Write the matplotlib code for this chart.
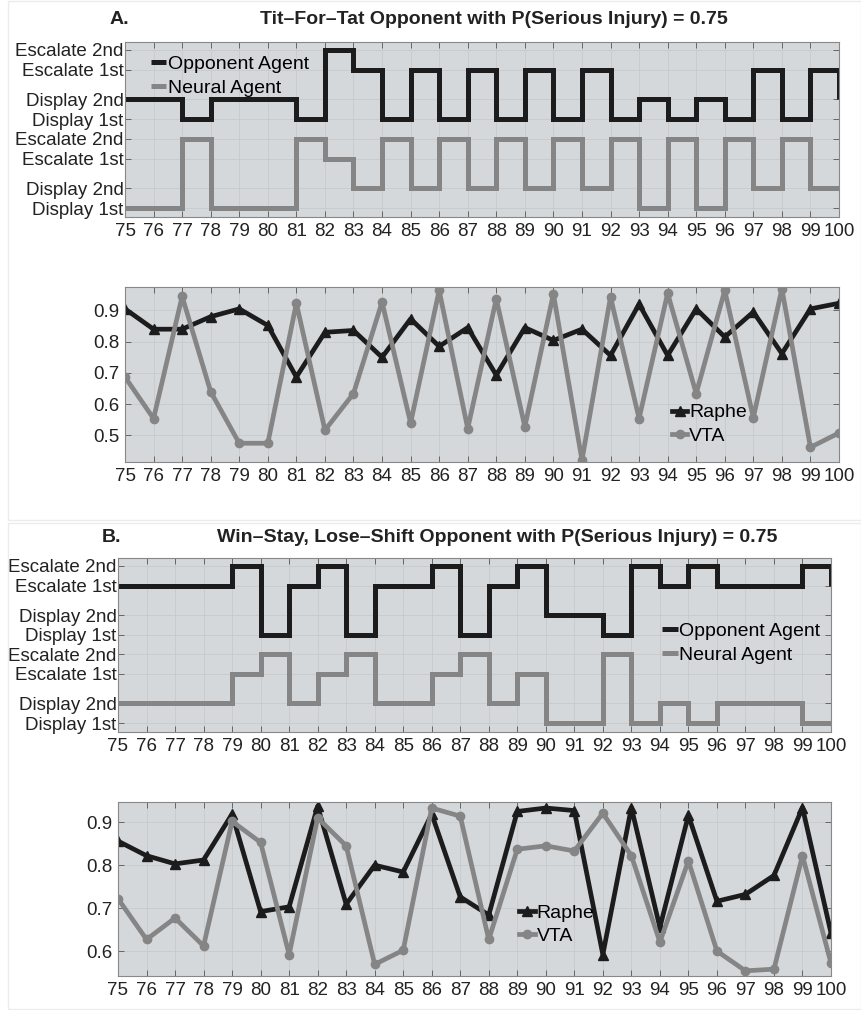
import matplotlib
matplotlib.use("Agg")
import matplotlib.pyplot as plt
from matplotlib.patches import Rectangle
import numpy as np

plt.rcParams['font.family'] = ['Liberation Sans', 'DejaVu Sans']

# ---------------- data ----------------
trials = list(range(75, 101))
level_names = ['Display 1st', 'Display 2nd', 'Escalate 1st', 'Escalate 2nd']
# codes: 0=Display 1st, 1=Display 2nd, 2=Escalate 1st, 3=Escalate 2nd
a_opponent = [1, 1, 0, 1, 1, 1, 0, 3, 2, 0, 2, 0, 2, 0, 2, 0, 2, 0, 1, 0, 1, 0, 2, 0, 2, 1]
a_neural = [0, 0, 3, 0, 0, 0, 3, 2, 1, 3, 1, 3, 1, 3, 1, 3, 1, 3, 0, 3, 0, 3, 1, 3, 1, 1]
b_opponent = [2, 2, 2, 2, 3, 0, 2, 3, 0, 2, 2, 3, 0, 2, 3, 1, 1, 0, 3, 2, 3, 2, 2, 2, 3, 2]
b_neural = [1, 1, 1, 1, 2, 3, 1, 2, 3, 1, 1, 2, 3, 1, 2, 0, 0, 3, 0, 1, 0, 1, 1, 1, 0, 0]

a_raphe = [0.905, 0.84, 0.84, 0.88, 0.905, 0.852, 0.687, 0.83, 0.836, 0.75, 0.873, 0.785, 0.845,
           0.693, 0.845, 0.804, 0.84, 0.756, 0.92, 0.756, 0.905, 0.815, 0.895, 0.762, 0.905, 0.923]
a_vta = [0.687, 0.554, 0.945, 0.64, 0.475, 0.475, 0.923, 0.517, 0.634, 0.927, 0.54, 0.964, 0.522,
         0.937, 0.528, 0.953, 0.421, 0.943, 0.554, 0.955, 0.634, 0.964, 0.557, 0.969, 0.462, 0.508]
b_raphe = [0.856, 0.822, 0.803, 0.812, 0.919, 0.692, 0.703, 0.937, 0.709, 0.80, 0.784, 0.919, 0.726,
           0.684, 0.925, 0.933, 0.927, 0.592, 0.934, 0.655, 0.916, 0.716, 0.732, 0.776, 0.934, 0.642]
b_vta = [0.722, 0.627, 0.677, 0.612, 0.902, 0.853, 0.592, 0.91, 0.845, 0.569, 0.602, 0.933, 0.914,
         0.627, 0.837, 0.845, 0.833, 0.921, 0.822, 0.621, 0.81, 0.60, 0.554, 0.558, 0.822, 0.572]

# ---------------- styling ----------------
W, H = 862, 1010
fig = plt.figure(figsize=(W / 100, H / 100), dpi=100)
BG = '#d5d8db'
BLACK = '#1c1c1c'
GRAY = '#858585'
TXT = '#222222'

# vertical positions of the behaviour levels (neural bottom, opponent top)
neural_pos = [0.0, 1.0, 2.5, 3.5]
opp_pos = [4.5, 5.5, 7.0, 8.0]


def rect(x0, y0, x1, y1):
    return [x0 / W, 1 - y1 / H, (x1 - x0) / W, (y1 - y0) / H]


def style_axes(ax):
    ax.set_facecolor(BG)
    ax.set_xlim(75, 100)
    ax.set_xticks(trials)
    ax.set_xticklabels([str(t) for t in trials], fontsize=13.5, color=TXT)
    ax.tick_params(direction='in', length=4, width=0.6, color='#555555',
                   top=True, right=True, pad=4)
    ax.tick_params(axis='y', labelsize=13.5, labelcolor=TXT)
    ax.grid(True, color='#c6cacd', linewidth=0.6)
    ax.set_axisbelow(True)
    for s in ax.spines.values():
        s.set_color('#888888')
        s.set_linewidth(0.8)


def step_panel(ax, opp, neu, legend_kw):
    style_axes(ax)
    opp_y = [opp_pos[v] for v in opp]
    neu_y = [neural_pos[v] for v in neu]
    ax.step(trials, opp_y, where='post', color=BLACK, lw=3.6,
            solid_joinstyle='miter', solid_capstyle='butt', label='Opponent Agent')
    ax.step(trials, neu_y, where='post', color=GRAY, lw=3.6,
            solid_joinstyle='miter', solid_capstyle='butt', label='Neural Agent')
    ax.set_ylim(-0.45, 8.4)
    ax.set_yticks(neural_pos + opp_pos)
    ax.set_yticklabels(level_names + level_names)
    ax.tick_params(axis='y', pad=1)
    ax.legend(frameon=False, fontsize=14, handlelength=0.8, handletextpad=0.1,
              labelspacing=0.35, borderaxespad=0, **legend_kw)


def line_panel(ax, raphe, vta, ylim, yticks, legend_kw):
    style_axes(ax)
    ax.plot(trials, raphe, color=BLACK, lw=3.4, marker='^', ms=7.5, label='Raphe')
    ax.plot(trials, vta, color=GRAY, lw=3.4, marker='o', ms=6, label='VTA')
    ax.set_ylim(*ylim)
    ax.set_yticks(yticks)
    ax.set_yticklabels([f'{v:.1f}' for v in yticks])
    ax.legend(frameon=False, fontsize=14, handlelength=0.8, handletextpad=0.1,
              labelspacing=0.3, borderaxespad=0, **legend_kw)


# faint panel frames
fig.patches.append(Rectangle((8 / W, 1 - 520 / H), 853 / W, 519 / H, transform=fig.transFigure,
                             fill=False, edgecolor='#ececec', lw=1))
fig.patches.append(Rectangle((8 / W, 1 - 1009 / H), 853 / W, 486 / H, transform=fig.transFigure,
                             fill=False, edgecolor='#ececec', lw=1))

# Panel A
axA1 = fig.add_axes(rect(125, 42, 839, 217))
step_panel(axA1, a_opponent, a_neural,
           dict(loc='upper left', bbox_to_anchor=(0.025, 0.97)))
axA2 = fig.add_axes(rect(125, 287, 839, 462))
line_panel(axA2, a_raphe, a_vta, (0.415, 0.975), [0.5, 0.6, 0.7, 0.8, 0.9],
           dict(loc='center left', bbox_to_anchor=(0.755, 0.215)))

# Panel B
axB1 = fig.add_axes(rect(118, 558, 831, 732))
step_panel(axB1, b_opponent, b_neural,
           dict(loc='center left', bbox_to_anchor=(0.752, 0.51)))
axB2 = fig.add_axes(rect(118, 802, 831, 976))
line_panel(axB2, b_raphe, b_vta, (0.542, 0.947), [0.6, 0.7, 0.8, 0.9],
           dict(loc='center left', bbox_to_anchor=(0.552, 0.295)))

# titles
fig.text(119 / W, 1 - 20 / H, 'A.', ha='center', va='center', fontsize=14, fontweight='bold', color=TXT)
fig.text(494 / W, 1 - 20 / H, 'Tit–For–Tat Opponent with P(Serious Injury) = 0.75',
         ha='center', va='center', fontsize=14, fontweight='bold', color=TXT)
fig.text(112 / W, 1 - 537 / H, 'B.', ha='center', va='center', fontsize=14, fontweight='bold', color=TXT)
fig.text(497 / W, 1 - 537 / H, 'Win–Stay, Lose–Shift Opponent with P(Serious Injury) = 0.75',
         ha='center', va='center', fontsize=14, fontweight='bold', color=TXT)

fig.savefig('out.png', dpi=100, facecolor='white')
